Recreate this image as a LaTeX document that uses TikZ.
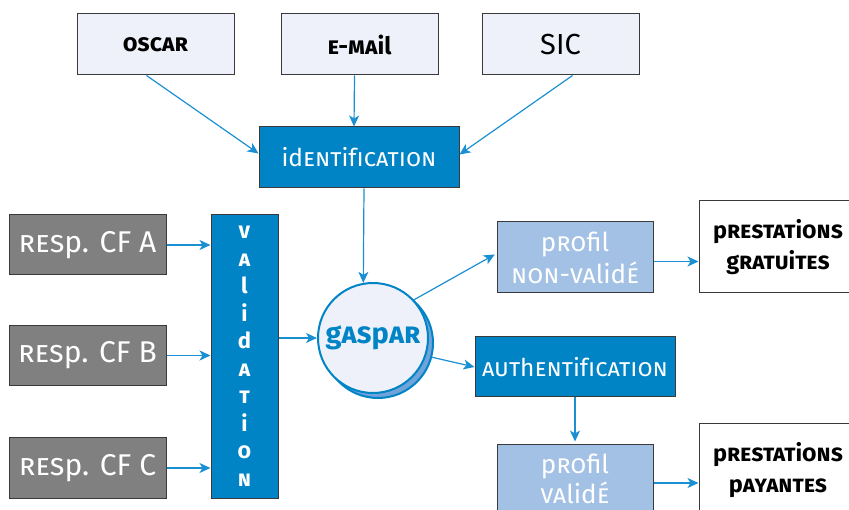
\documentclass[tikz,border=0pt]{standalone}
\usepackage{fontspec}
\setmainfont{Fira Sans}
\usetikzlibrary{arrows.meta,shadows}
\definecolor{bblue}{HTML}{0084C6}
\definecolor{ablue}{HTML}{1A8FD2}
\definecolor{lightbox}{HTML}{EEF1F9}
\definecolor{lblue}{HTML}{A3C1E5}
\definecolor{sblue}{HTML}{6FA3DA}
\definecolor{gbox}{HTML}{808080}
\definecolor{edge}{HTML}{3A3A3A}
\newcommand\smc[1]{{\scshape #1}}
\begin{document}
\begin{tikzpicture}[x=1pt,y=-1pt,
  box/.style={draw=edge, line width=1pt, inner sep=0pt, anchor=center},
  srcbox/.style={box, fill=lightbox, minimum width=157pt, minimum height=61pt, text=black},
  bluebox/.style={box, fill=bblue, text=white, minimum height=61pt},
  graybox/.style={box, fill=gbox, text=white, minimum width=157pt, minimum height=60pt, font=\fontsize{30}{32}\selectfont},
  profbox/.style={box, fill=lblue, text=white, minimum width=156pt, minimum height=71pt, align=center, font=\fontsize{26}{32}\selectfont},
  prestbox/.style={box, fill=white, text=black, minimum width=158pt, minimum height=92pt, align=center, font=\fontsize{23.5}{31}\selectfont\bfseries},
  arr/.style={draw=ablue, line width=1.2pt, -{Stealth[length=11pt,width=10pt,inset=3pt]}}]
\useasboundingbox (0,0) rectangle (849,510);

% sources
\node[srcbox, font=\fontsize{24}{26}\selectfont\bfseries] (oscar) at (155.5,44.5) {\smc{oscar}};
\node[srcbox, font=\fontsize{24}{26}\selectfont\bfseries] (email) at (359.5,44.5) {\smc{e-ma}il};
\node[srcbox, font=\fontsize{29}{31}\selectfont] (sic) at (560.5,44.5) {SIC};

\node[bluebox, minimum width=200pt, font=\fontsize{24.5}{26}\selectfont] (ident) at (359,157.5) {id\smc{ent}if\smc{ication}};

% responsables
\node[graybox] (respA) at (87.5,245) {\smc{res}p. CF A};
\node[graybox] (respB) at (87.5,355.5) {\smc{res}p. CF B};
\node[graybox] (respC) at (87.5,468) {\smc{res}p. CF C};

\node[bluebox, minimum width=67pt, minimum height=283pt, align=center,
      font=\fontsize{22}{27.5}\selectfont\bfseries] (valid) at (244.5,356.5)
  {\smc{v}\\\smc{a}\\l\\i\\d\\\smc{a}\\\smc{t}\\i\\\smc{o}\\\smc{n}};

% gaspar
\node[circle, draw=bblue, line width=2pt, fill=lightbox, minimum size=110pt, inner sep=0pt,
      copy shadow={shadow xshift=5pt, shadow yshift=-5pt, fill=sblue, draw=bblue, line width=2pt},
      text=bblue, font=\fontsize{29}{31}\selectfont\bfseries] (gaspar) at (373,338) {g\smc{as}p\smc{ar}};

% right side
\node[profbox] (profNV) at (575,257.5) {p\smc{ro}fil\\\smc{non-va}lid\smc{é}};
\node[prestbox] (prestG) at (778,247) {p\smc{restat}i\smc{ons}\\g\smc{ratu}i\smc{tes}};
\node[bluebox, minimum width=200pt, minimum height=60pt, font=\fontsize{24.5}{26}\selectfont] (auth) at (575,367) {\smc{aut}h\smc{ent}if\smc{ication}};
\node[profbox, minimum height=68pt, font=\fontsize{26}{30}\selectfont] (profV) at (575,479) {p\smc{ro}fil\\\smc{va}lid\smc{é}};
\node[prestbox] (prestP) at (778,470) {p\smc{restat}i\smc{ons}\\p\smc{ayantes}};

% arrows
\draw[arr] ([xshift=-9pt]oscar.south) -- ([yshift=4pt]ident.west);
\draw[arr] ([xshift=-5pt]email.south) -- ([xshift=-5pt]ident.north);
\draw[arr] ([xshift=12pt]sic.south) -- ([yshift=3pt]ident.east);
\draw[arr] ([xshift=5pt]ident.south) -- (gaspar.100);
\draw[arr] (respA.east) -- (respA.east -| valid.west);
\draw[arr] (respB.east) -- (respB.east -| valid.west);
\draw[arr] (respC.east) -- (respC.east -| valid.west);
\draw[arr] (valid.east |- gaspar.west) -- (gaspar.west);
\draw[arr, shorten >=2pt] (gaspar.43) -- ([yshift=4pt]profNV.west);
\draw[arr] ([xshift=6pt]gaspar.-20) -- (auth.west);
\draw[arr, shorten >=3pt] (auth.south) -- (profV.north);
\draw[arr] ([yshift=-4pt]profNV.east) -- ([yshift=-4pt]profNV.east -| prestG.west);
\draw[arr] ([yshift=-4pt]profV.east) -- ([yshift=-4pt]profV.east -| prestP.west);
\end{tikzpicture}
\end{document}
